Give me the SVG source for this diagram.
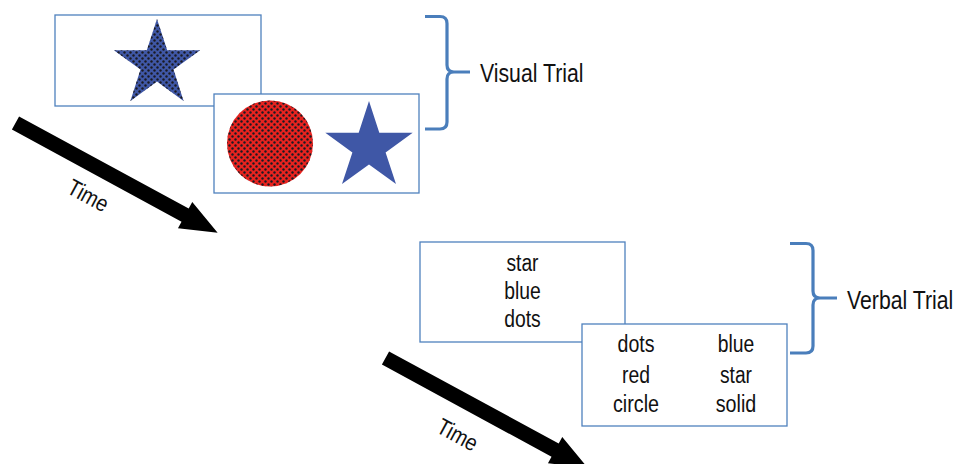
<svg xmlns="http://www.w3.org/2000/svg" width="961" height="464" viewBox="0 0 961 464">
<defs>
<pattern id="dots" patternUnits="userSpaceOnUse" width="6" height="6">
<circle cx="1.5" cy="1.5" r="1.2" fill="#1a1a22"/>
<circle cx="4.5" cy="4.5" r="1.2" fill="#1a1a22"/>
</pattern>
<style>
.box{fill:#ffffff;stroke:#4f81bd;stroke-width:1.3}
.brace{fill:none;stroke:#4a7ebb;stroke-width:3.2;stroke-linejoin:round}
.t{font-family:"Liberation Sans",Arial,sans-serif;font-size:23px;fill:#111111;text-anchor:middle}
.lbl{font-family:"Liberation Sans",Arial,sans-serif;font-size:25px;fill:#111111}
.arrow{fill:#000000}
.blue{fill:#3f57a6}
</style>
</defs>
<rect width="961" height="464" fill="#ffffff"/>

<g id="visual-frame-1">
<rect class="box" x="55" y="15" width="206" height="91"/>
<polygon class="blue" points="157,19 167.2,50.3 200.1,50.3 173.5,69.6 183.6,100.9 157,81.6 130.4,100.9 140.5,69.6 113.9,50.3 146.8,50.3"/>
<polygon fill="url(#dots)" points="157,19 167.2,50.3 200.1,50.3 173.5,69.6 183.6,100.9 157,81.6 130.4,100.9 140.5,69.6 113.9,50.3 146.8,50.3"/>
</g>

<g id="visual-frame-2">
<rect class="box" x="214" y="94" width="205" height="99"/>
<circle cx="270" cy="143.5" r="43" fill="#e8231f"/>
<circle cx="270" cy="143.5" r="43" fill="url(#dots)"/>
<polygon class="blue" points="369,101.1 379.3,132.8 412.7,132.8 385.6,152.4 396,184.1 369,164.5 342,184.1 352.4,152.4 325.3,132.8 358.7,132.8"/>
</g>

<g id="verbal-frame-1">
<rect class="box" x="420" y="242" width="205" height="100"/>
<text class="t" x="522.5" y="271" textLength="32" lengthAdjust="spacingAndGlyphs">star</text>
<text class="t" x="522.5" y="299" textLength="36.5" lengthAdjust="spacingAndGlyphs">blue</text>
<text class="t" x="522.5" y="327" textLength="36.5" lengthAdjust="spacingAndGlyphs">dots</text>
</g>

<g id="verbal-frame-2">
<rect class="box" x="582" y="324" width="205" height="102"/>
<text class="t" x="636" y="352" textLength="37" lengthAdjust="spacingAndGlyphs">dots</text>
<text class="t" x="636" y="383" textLength="28" lengthAdjust="spacingAndGlyphs">red</text>
<text class="t" x="636" y="412" textLength="46" lengthAdjust="spacingAndGlyphs">circle</text>
<text class="t" x="736" y="352" textLength="36.5" lengthAdjust="spacingAndGlyphs">blue</text>
<text class="t" x="736" y="383" textLength="32" lengthAdjust="spacingAndGlyphs">star</text>
<text class="t" x="736" y="412" textLength="40.5" lengthAdjust="spacingAndGlyphs">solid</text>
</g>

<g id="visual-trial-label">
<text class="lbl" transform="translate(480,82) scale(0.85,1)" x="0" y="0">Visual Trial</text>
</g>

<g id="verbal-trial-label">
<text class="lbl" transform="translate(847,309) scale(0.85,1)" x="0" y="0">Verbal Trial</text>
</g>

<g id="connectors">
<path class="brace" d="M425,16.5 L440,16.5 Q447,16.5 447,23.5 L447,65 Q447,72 454,72 L470,72 M454,72 Q447,72 447,79 L447,122 Q447,129 440,129 L425,129"/>
<path class="brace" d="M790,243.5 L806,243.5 Q813,243.5 813,250.5 L813,291 Q813,298 820,298 L837,298 M820,298 Q813,298 813,305 L813,346 Q813,353 806,353 L790,353"/>
<g transform="translate(15.5,123) rotate(28.5)">
<path class="arrow" d="M0,-7.5 L193,-7.5 L193,-15 L230,0 L193,15 L193,7.5 L0,7.5 Z"/>
<text class="t" x="98.5" y="37" textLength="43" lengthAdjust="spacingAndGlyphs">Time</text>
</g>
<g transform="translate(385.5,358) rotate(28.5)">
<path class="arrow" d="M0,-7.5 L193,-7.5 L193,-15 L230,0 L193,15 L193,7.5 L0,7.5 Z"/>
<text class="t" x="100" y="41" textLength="43" lengthAdjust="spacingAndGlyphs">Time</text>
</g>
</g>
</svg>
